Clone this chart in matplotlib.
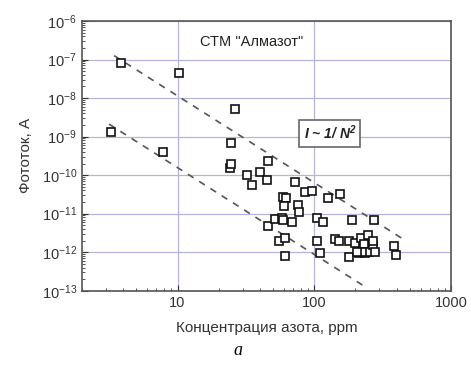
import matplotlib
matplotlib.use("Agg")
import matplotlib.pyplot as plt
import numpy as np

plt.rcParams['font.family'] = ['Liberation Sans', 'DejaVu Sans']
plt.rcParams['mathtext.fontset'] = 'custom'
plt.rcParams['mathtext.bf'] = 'Liberation Sans:italic:bold'
plt.rcParams['mathtext.rm'] = 'Liberation Sans'

# measured points: nitrogen concentration (ppm) vs photocurrent (A)
conc = [3.85, 10.3, 26.2, 3.26, 7.8, 24.8, 24.0, 24.5, 46, 32.3,
        35.2, 40.1, 45.4, 72.5, 86, 97, 126, 154, 59.5, 62.5,
        60, 76, 77.5, 46, 51.7, 58, 58.6, 68.5, 55.3, 61,
        61, 104, 110, 105, 116, 188, 275, 142, 152, 181,
        181, 197, 212, 220, 230, 247, 236, 250, 271, 276,
        268, 383, 398, 225, 205]
current = [8e-8, 4.5e-8, 5.3e-9, 1.3e-9, 4.1e-10, 6.9e-10, 1.5e-10, 1.9e-10, 2.35e-10, 9.8e-11,
           5.6e-11, 1.17e-10, 7.4e-11, 6.7e-11, 3.7e-11, 3.8e-11, 2.6e-11, 3.2e-11, 2.7e-11, 2.5e-11,
           1.57e-11, 1.7e-11, 1.1e-11, 4.9e-12, 7.2e-12, 7.8e-12, 6.8e-12, 5.9e-12, 2.0e-12, 2.3e-12,
           8e-13, 1.9e-12, 9.8e-13, 7.5e-12, 6.1e-12, 6.8e-12, 6.8e-12, 2.2e-12, 2.0e-12, 2.0e-12,
           7.3e-13, 1.7e-12, 9.3e-13, 2.3e-12, 1.6e-12, 2.8e-12, 9.8e-13, 1.0e-12, 1.5e-12, 1.0e-12,
           2.0e-12, 1.45e-12, 8.3e-13, 1.0e-12, 1.0e-12]

# guide lines I ~ 1/N^2 (end points)
upper_x = [3.44, 472]
upper_y = [1.26e-7, 1.93e-12]
lower_x = [3.16, 226]
lower_y = [2.1e-9, 1.39e-13]

fig = plt.figure(figsize=(4.71, 3.68), dpi=100)
ax = fig.add_axes([0.174, 0.21, 0.7835, 0.733])

ax.set_xscale('log')
ax.set_yscale('log')
ax.set_xlim(2, 1000)
ax.set_ylim(1e-13, 1e-6)

ax.grid(True, which='major', color='#b4b4dc', linewidth=0.9)
ax.set_axisbelow(True)

ax.plot(upper_x, upper_y, linestyle=(0, (4, 4)), color='#555555', linewidth=1.2)
ax.plot(lower_x, lower_y, linestyle=(0, (4, 4)), color='#555555', linewidth=1.2)

ax.plot(conc, current, linestyle='none', marker='s', markersize=5.5,
        markerfacecolor='white', markeredgecolor='#111111', markeredgewidth=1.2)

ax.set_xticks([10, 100, 1000])
ax.set_xticklabels(['10', '100', '1000'])
ax.set_yticks([10.0 ** k for k in range(-13, -5)])
ax.tick_params(axis='both', which='both', direction='in', top=False, right=False,
               labelsize=10.5, colors='#333333')
ax.tick_params(axis='both', which='major', length=4)
ax.tick_params(axis='both', which='minor', length=2)
ax.yaxis.set_minor_locator(matplotlib.ticker.LogLocator(base=10, subs=np.arange(2, 10), numticks=20))
ax.yaxis.set_minor_formatter(matplotlib.ticker.NullFormatter())

for s in ax.spines.values():
    s.set_color('#555555')
    s.set_linewidth(1.2)

ax.text(35, 2.85e-7, 'СТМ "Алмазот"', fontsize=10.5, ha='center', va='center', color='#222222')
ax.text(130, 1.23e-9, r'I ~ 1/ N$^{\mathbf{2}}$', fontsize=10, fontweight='bold', fontstyle='italic',
        ha='center', va='center', color='#222222',
        bbox=dict(boxstyle='square,pad=0.3', facecolor='white', edgecolor='#666666', linewidth=1.2))

ax.set_xlabel('Концентрация азота, ppm', fontsize=11, color='#333333', labelpad=8)
ax.set_ylabel('Фототок, А', fontsize=11, color='#333333', labelpad=6)

fig.text(0.505, 0.025, 'a', fontsize=13, fontstyle='italic', family='Liberation Serif',
         ha='center', va='bottom')

fig.savefig('out.png', dpi=100)
